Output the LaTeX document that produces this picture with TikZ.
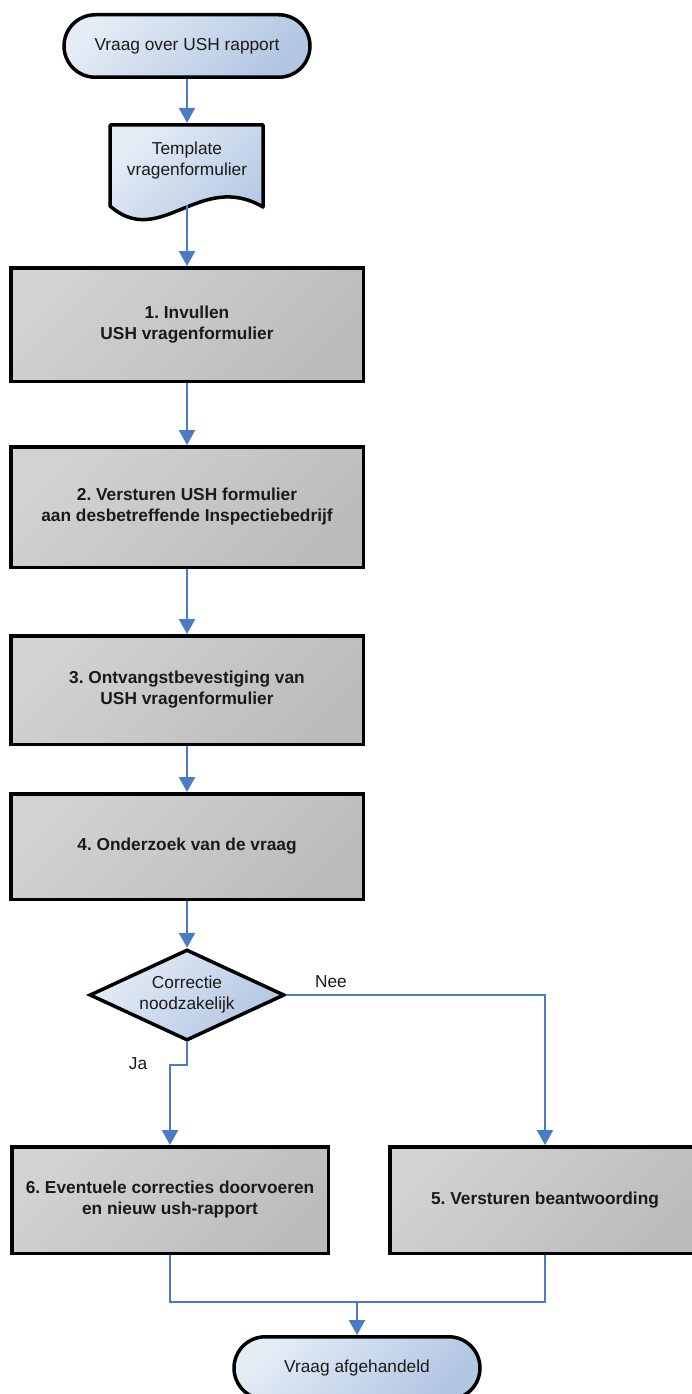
\documentclass[tikz,border=0pt]{standalone}
\usepackage{fontspec}
\setmainfont{Liberation Sans}
\usetikzlibrary{arrows.meta,shapes.geometric,shapes.misc}
\definecolor{lineblue}{HTML}{4A7CC4}
\definecolor{bluelight}{HTML}{E4ECF6}
\definecolor{bluedark}{HTML}{B2C6E2}
\definecolor{graylight}{HTML}{D2D2D2}
\definecolor{graydark}{HTML}{BCBCBC}
\definecolor{txt}{HTML}{1A1A1A}
\begin{document}
\frenchspacing
\begin{tikzpicture}[x=1pt,y=-1pt,
  every node/.style={font=\fontsize{17.3}{21}\selectfont, align=center, text=txt},
  blueshade/.style={top color=bluelight, bottom color=bluedark, shading angle=45},
  terminal/.style={rounded rectangle, draw=black, line width=3.5pt, blueshade,
    minimum width=246, minimum height=62.5, inner sep=0},
  procbox/.style={rectangle, draw=black, line width=3.5pt,
    top color=graylight, bottom color=graydark, shading angle=45,
    inner sep=0, font=\fontsize{17.3}{21}\selectfont\bfseries},
  decision/.style={diamond, aspect=2.15, draw=black, line width=3.5pt, blueshade,
    minimum width=195, minimum height=91, inner sep=0},
  conn/.style={draw=lineblue, line width=2.3pt, -{Triangle[width=16pt,length=15pt]}},
  plainline/.style={draw=lineblue, line width=2.3pt},
  lbl/.style={font=\fontsize{17.3}{21}\selectfont, inner sep=0},
]
\useasboundingbox (0,0) rectangle (691,1394);
\fill[white] (0,0) rectangle (691,1394);

% start terminal
\node[terminal] (start) at (187,46) {Vraag over USH rapport};

% document shape
\path[draw=black, line width=3.5pt, line join=round, blueshade]
  (110,125) -- (263,125) -- (263,207)
  .. controls (200,170) and (160,250) .. (110,206) -- cycle;
\node[inner sep=0, minimum width=153, minimum height=76] (doc) at (187,161)
  {Template\\vragenformulier};

% process boxes
\node[procbox, minimum width=352.5, minimum height=113.5] (b1) at (187,324.5)
  {1. Invullen\\USH vragenformulier};
\node[procbox, minimum width=352.5, minimum height=120.5] (b2) at (187,507)
  {2. Versturen USH formulier\\aan desbetreffende Inspectiebedrijf};
\node[procbox, minimum width=352.5, minimum height=108.5] (b3) at (187,690)
  {3. Ontvangstbevestiging van\\USH vragenformulier};
\node[procbox, minimum width=352.5, minimum height=105.5] (b4) at (187,846.5)
  {4. Onderzoek van de vraag};

% decision
\node[decision] (dia) at (187,995) {Correctie\\noodzakelijk};

% branch boxes
\node[procbox, minimum width=316.5, minimum height=106.5] (b6) at (170,1200)
  {6. Eventuele correcties doorvoeren\\en nieuw ush-rapport};
\node[procbox, minimum width=310.5, minimum height=106.5] (b5) at (545,1200)
  {5. Versturen beantwoording};

% end terminal
\node[terminal] (end) at (357,1368) {Vraag afgehandeld};

% helper coordinates
\coordinate (jog) at (0,1065);
\coordinate (merge) at (0,1302);

% connectors
\draw[conn] (start.south) -- (doc.north);
\draw[conn] ([yshift=-6pt]doc.south) -- (b1.north);
\draw[conn] (b1.south) -- (b2.north);
\draw[conn] (b2.south) -- (b3.north);
\draw[conn] (b3.south) -- (b4.north);
\draw[conn] (b4.south) -- (dia.north);
\draw[conn] (dia.east) -| (b5.north);
\draw[conn] (dia.south) -- (dia.south |- jog) -- (b6.north |- jog) -- (b6.north);
\draw[plainline] (b6.south) -- (b6.south |- merge) -- (b5.south |- merge) -- (b5.south);
\draw[conn] (end.north |- merge) -- (end.north);

% labels
\node[lbl] (nee) at (331,982) {Nee};
\node[lbl] (ja) at (138,1064) {Ja};
\end{tikzpicture}
\end{document}
